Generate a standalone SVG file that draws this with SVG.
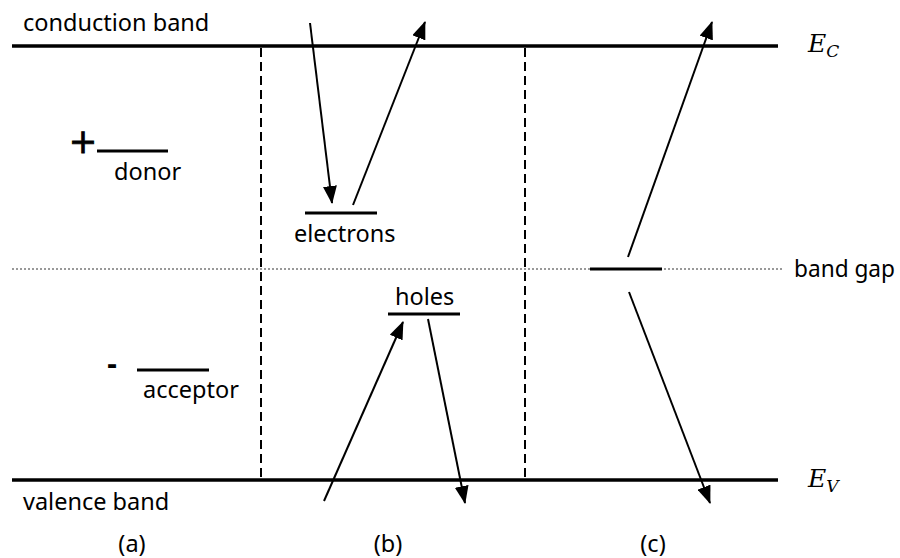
<svg xmlns="http://www.w3.org/2000/svg" width="900" height="558" viewBox="0 0 900 558">
<style>
.t{font-family:"Noto Sans","Open Sans",sans-serif;font-size:23.5px;fill:#000}
.m{font-family:"DejaVu Serif","Liberation Serif",serif;font-style:italic;fill:#000}
.band{stroke:#000;stroke-width:3.5}
.lvl{stroke:#000;stroke-width:3}
.dash{stroke:#000;stroke-width:2;stroke-dasharray:9 5}
.arr{stroke:#000;stroke-width:2;fill:none;marker-end:url(#ah)}
</style>
<defs>
<marker id="ah" markerUnits="userSpaceOnUse" markerWidth="18" markerHeight="14" refX="17" refY="7" orient="auto">
<path d="M0,0 L18,7 L0,14 Z" fill="#000"/>
</marker>
</defs>
<rect width="900" height="558" fill="#fff"/>
<g id="bands">
<line class="band" x1="12" y1="46" x2="778" y2="46"/>
<line class="band" x1="12" y1="480" x2="778" y2="480"/>
<line x1="12" y1="269" x2="783" y2="269" stroke="#999" stroke-width="2" stroke-dasharray="2 2"/>
<line class="dash" x1="261" y1="48" x2="261" y2="478"/>
<line class="dash" x1="525" y1="48" x2="525" y2="478"/>
</g>
<g id="labels">
<text class="t" x="23" y="31">conduction band</text>
<text class="t" x="23" y="510">valence band</text>
<text class="t" x="794" y="277" textLength="101" lengthAdjust="spacingAndGlyphs">band gap</text>
<text class="m" x="808" y="52" font-size="25">E<tspan font-size="17" dy="5">C</tspan></text>
<text class="m" x="808" y="487" font-size="25">E<tspan font-size="17" dy="5">V</tspan></text>
<text class="t" x="132" y="552" text-anchor="middle">(a)</text>
<text class="t" x="388" y="552" text-anchor="middle">(b)</text>
<text class="t" x="653" y="552" text-anchor="middle">(c)</text>
</g>
<g id="donor">
<text x="83" y="153" font-family="DejaVu Sans,sans-serif" font-size="34" text-anchor="middle" stroke="#000" stroke-width="0.8">+</text>
<line class="lvl" x1="97" y1="151" x2="168" y2="151"/>
<text class="t" x="114" y="180">donor</text>
</g>
<g id="acceptor">
<text x="112" y="374" font-family="Noto Sans,sans-serif" font-size="30" font-weight="bold" text-anchor="middle">-</text>
<line class="lvl" x1="137" y1="370" x2="209" y2="370"/>
<text class="t" x="143" y="398">acceptor</text>
</g>
<g id="electrons">
<line class="lvl" x1="305" y1="213" x2="377" y2="213"/>
<text class="t" x="294" y="242">electrons</text>
</g>
<g id="holes">
<line class="lvl" x1="388" y1="314" x2="460" y2="314"/>
<text class="t" x="395" y="305">holes</text>
</g>
<g id="gap-level">
<line class="lvl" x1="590" y1="269" x2="662" y2="269"/>
</g>
<g id="connectors">
<line class="arr" x1="310" y1="23" x2="332" y2="203"/>
<line class="arr" x1="353" y1="205" x2="425" y2="22"/>
<line class="arr" x1="324" y1="501" x2="403" y2="322"/>
<line class="arr" x1="428" y1="319" x2="465" y2="503"/>
<line class="arr" x1="628" y1="257" x2="712" y2="22"/>
<line class="arr" x1="629" y1="292" x2="710" y2="503"/>
</g>
</svg>
